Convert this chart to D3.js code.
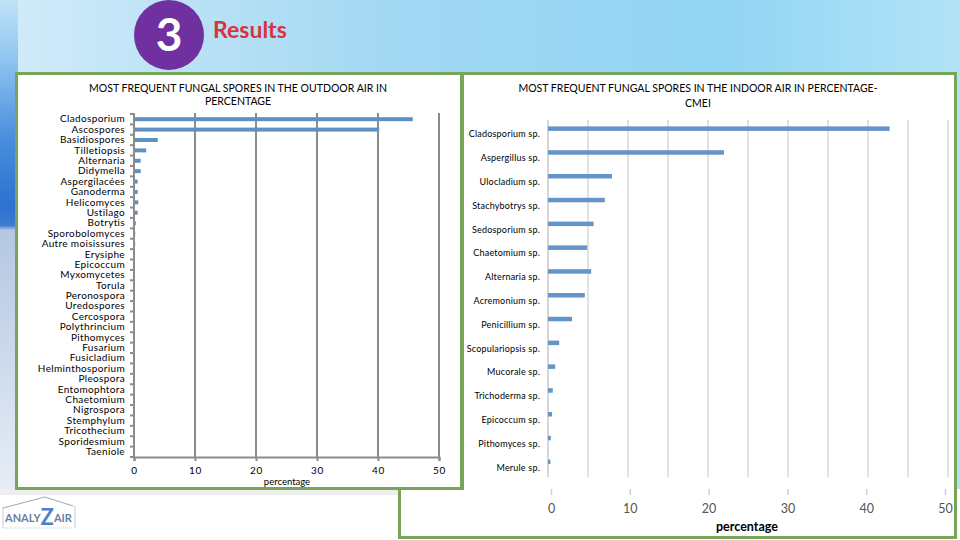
<!DOCTYPE html>
<html>
<head>
<meta charset="utf-8">
<script src="https://cdn.jsdelivr.net/npm/d3@7"></script>
<style>
  html, body { margin: 0; padding: 0; background: #ffffff; }
  svg { display: block; }
  text { font-family: Lato, "Open Sans", sans-serif; }
</style>
</head>
<body>
<svg id="slide" width="960" height="540"></svg>
<script>
// ---------- DATA ----------
const outdoorCategories = ["Cladosporium","Ascospores","Basidiospores","Tilletiopsis","Alternaria","Didymella","Aspergilacées","Ganoderma","Helicomyces","Ustilago","Botrytis","Sporobolomyces","Autre moisissures","Erysiphe","Epicoccum","Myxomycetes","Torula","Peronospora","Uredospores","Cercospora","Polythrincium","Pithomyces","Fusarium","Fusicladium","Helminthosporium","Pleospora","Entomophtora","Chaetomium","Nigrospora","Stemphylum","Tricothecium","Sporidesmium","Taeniole"];
const outdoorValues = [45.7, 40.2, 3.9, 2.0, 1.1, 1.1, 0.6, 0.6, 0.7, 0.6, 0.3, 0.2, 0.2, 0.15, 0.15, 0.15, 0.1, 0.1, 0.08, 0.08, 0.06, 0.06, 0.05, 0.05, 0.05, 0.05, 0.04, 0.04, 0.04, 0.03, 0.03, 0.03, 0.02];
const indoorCategories = ["Cladosporium sp.","Aspergillus sp.","Ulocladium sp.","Stachybotrys sp.","Sedosporium sp.","Chaetomium sp.","Alternaria sp.","Acremonium sp.","Penicillium sp.","Scopulariopsis sp.","Mucorale sp.","Trichoderma sp.","Epicoccum sp.","Pithomyces sp.","Merule sp."];
const indoorValues = [42.7, 22.0, 8.0, 7.1, 5.7, 4.9, 5.4, 4.6, 3.0, 1.4, 0.9, 0.6, 0.5, 0.35, 0.3];
const outdoorTicks = [0, 10, 20, 30, 40, 50];
const indoorGridTicks = [0, 5, 10, 15, 20, 25, 30, 35, 40, 45, 50];
const indoorAxisTicks = [0, 10, 20, 30, 40, 50];
const outdoorTitle = ["MOST FREQUENT FUNGAL SPORES IN THE OUTDOOR AIR IN", "PERCENTAGE"];
const indoorTitle = ["MOST FREQUENT FUNGAL SPORES IN THE INDOOR AIR IN PERCENTAGE-", "CMEI"];
const axisTitle = "percentage";

// ---------- SLIDE ----------
const svg = d3.select("#slide");
const defs = svg.append("defs");

const topGrad = defs.append("linearGradient").attr("id", "topGrad")
  .attr("x1", 0).attr("y1", 0).attr("x2", 1).attr("y2", 0);
[["0%", "#d2ebf9"], ["40%", "#a3d8f3"], ["75%", "#92d5f4"], ["100%", "#b2e3f7"]]
  .forEach(([o, c]) => topGrad.append("stop").attr("offset", o).attr("stop-color", c));

const stripGrad = defs.append("linearGradient").attr("id", "stripGrad")
  .attr("x1", 0).attr("y1", 0).attr("x2", 0).attr("y2", 1);
[["0%", "#c0e2f6"], ["12%", "#8fc6ef"], ["28%", "#4a8fdc"], ["42%", "#2c72d0"], ["46%", "#3c7cd2"], ["47%", "#b5c7e2"], ["100%", "#e6edf6"]]
  .forEach(([o, c]) => stripGrad.append("stop").attr("offset", o).attr("stop-color", c));

svg.append("rect").attr("x", 0).attr("y", 0).attr("width", 960).attr("height", 490).attr("fill", "url(#topGrad)");
svg.append("rect").attr("x", 0).attr("y", 0).attr("width", 18).attr("height", 490).attr("fill", "url(#stripGrad)");
svg.append("rect").attr("x", 0).attr("y", 489).attr("width", 960).attr("height", 51).attr("fill", "#ffffff");
svg.append("rect").attr("x", 0).attr("y", 489).attr("width", 400).attr("height", 6).attr("fill", "#eeeeee");

// Heading
svg.append("circle").attr("cx", 169).attr("cy", 35).attr("r", 35).attr("fill", "#7030a0");
svg.append("text").attr("x", 169).attr("y", 51).attr("text-anchor", "middle")
  .attr("fill", "#ffffff").attr("font-size", 46).attr("font-weight", "bold").text("3");
svg.append("text").attr("x", 213).attr("y", 38).attr("fill", "#d9333f")
  .attr("font-size", 23).attr("font-weight", "bold").text("Results");

// Panels
const green = "#77a55a";
svg.append("rect").attr("x", 16.5).attr("y", 73.5).attr("width", 445).attr("height", 415)
  .attr("fill", "#ffffff").attr("stroke", green).attr("stroke-width", 3);
svg.append("path").attr("d", "M399.5,488.5 H462.5 V73.5 H955.5 V537.5 H399.5 Z")
  .attr("fill", "#ffffff").attr("stroke", green).attr("stroke-width", 3);

// ---------- LEFT CHART (outdoor) ----------
const gL = svg.append("g");
const xL = d3.scaleLinear().domain([0, 50]).range([134, 439]);
const yL = d3.scaleBand().domain(outdoorCategories).range([114, 457]);
const gridGray = "#8c8c8c";

gL.selectAll("text.title").data(outdoorTitle).join("text")
  .attr("x", 238).attr("y", (d, i) => 92 + i * 13).attr("text-anchor", "middle")
  .attr("font-size", 10.5).attr("fill", "#000").text(d => d);

gL.selectAll("line.grid").data(outdoorTicks.slice(1)).join("line")
  .attr("x1", d => xL(d)).attr("x2", d => xL(d)).attr("y1", 113).attr("y2", 457)
  .attr("stroke", gridGray).attr("stroke-width", 2);

gL.selectAll("rect.bar").data(outdoorValues).join("rect")
  .attr("x", xL(0)).attr("y", (d, i) => yL(outdoorCategories[i]) + yL.bandwidth() / 2 - 2)
  .attr("width", d => Math.max(xL(d) - xL(0), 0.5)).attr("height", 4)
  .attr("fill", "#5f8fc5");

// left axis with labels
const axL = gL.append("g").attr("transform", `translate(${xL(0)},0)`)
  .call(d3.axisLeft(yL).tickSize(0).tickPadding(9));
axL.select(".domain").remove();
axL.selectAll("text").attr("font-size", 10).attr("fill", "#000").attr("letter-spacing", 0.35)
  .attr("font-family", "Lato, sans-serif");
// boundary ticks
const bounds = outdoorCategories.map(c => yL(c)).concat([yL.range()[1]]);
gL.selectAll("line.btick").data(bounds).join("line")
  .attr("x1", xL(0) - 4).attr("x2", xL(0)).attr("y1", d => d).attr("y2", d => d)
  .attr("stroke", gridGray).attr("stroke-width", 2);
gL.append("line").attr("x1", xL(0)).attr("x2", xL(0)).attr("y1", 113).attr("y2", 458)
  .attr("stroke", gridGray).attr("stroke-width", 2);

// bottom axis
const axB = gL.append("g").attr("transform", "translate(0,457)")
  .call(d3.axisBottom(xL).tickValues(outdoorTicks).tickSize(4).tickPadding(6).tickFormat(d3.format("d")));
axB.select(".domain").attr("stroke", gridGray).attr("stroke-width", 2);
axB.selectAll(".tick line").attr("stroke", gridGray).attr("stroke-width", 2);
axB.selectAll("text").attr("font-size", 10).attr("fill", "#000").attr("letter-spacing", 0.8)
  .attr("font-family", "Lato, sans-serif");
gL.append("text").attr("x", 287).attr("y", 485).attr("text-anchor", "middle")
  .attr("font-size", 9.5).attr("fill", "#000").text(axisTitle);

// ---------- RIGHT CHART (indoor) ----------
const gR = svg.append("g");
const xR = d3.scaleLinear().domain([0, 50]).range([548, 948]);
const yR = d3.scaleBand().domain(indoorCategories).range([120, 477]);

gR.selectAll("text.title").data(indoorTitle).join("text")
  .attr("x", 698).attr("y", (d, i) => 92 + i * 15).attr("text-anchor", "middle")
  .attr("font-size", 10.5).attr("fill", "#000").text(d => d);

gR.selectAll("line.grid").data(indoorGridTicks).join("line")
  .attr("x1", d => xR(d)).attr("x2", d => xR(d)).attr("y1", 120).attr("y2", 477)
  .attr("stroke", d => d === 0 ? "#c8c8c8" : "#d9d9d9").attr("stroke-width", 1.5);

gR.selectAll("rect.bar").data(indoorValues).join("rect")
  .attr("x", xR(0)).attr("y", (d, i) => yR(indoorCategories[i]) + yR.bandwidth() / 2 - 5.5)
  .attr("width", d => xR(d) - xR(0)).attr("height", 4.5)
  .attr("fill", "#6494c8");

gR.selectAll("text.cat").data(indoorCategories).join("text")
  .attr("x", 540).attr("y", d => yR(d) + yR.bandwidth() / 2 + 5.5)
  .attr("text-anchor", "end").attr("font-size", 9).attr("fill", "#000")
  .attr("letter-spacing", 0.2).text(d => d);

// detached bottom axis
const xR2 = d3.scaleLinear().domain([0, 50]).range([551, 945]);
const axR = gR.append("g").attr("transform", "translate(0,489)")
  .call(d3.axisBottom(xR2).tickValues(indoorAxisTicks).tickSize(6).tickPadding(9).tickFormat(d3.format("d")));
axR.select(".domain").remove();
axR.selectAll(".tick line").attr("stroke", "#d0d0d0").attr("stroke-width", 1.5);
axR.selectAll("text").attr("font-size", 12.5).attr("fill", "#555").attr("font-family", "Lato, sans-serif");
gR.append("text").attr("x", 747).attr("y", 531).attr("text-anchor", "middle")
  .attr("font-size", 12.5).attr("font-weight", "bold").attr("fill", "#000").text(axisTitle);

// ---------- LOGO ----------
const gLogo = svg.append("g");
gLogo.append("path").attr("d", "M3,508 L45,497 L73,506").attr("fill", "none")
  .attr("stroke", "#9aa7b8").attr("stroke-width", 1);
gLogo.append("line").attr("x1", 3).attr("x2", 3).attr("y1", 507).attr("y2", 528).attr("stroke", "#c7cfd9");
gLogo.append("line").attr("x1", 75).attr("x2", 75).attr("y1", 506).attr("y2", 528).attr("stroke", "#c7cfd9");
gLogo.append("line").attr("x1", 3).attr("x2", 75).attr("y1", 528).attr("y2", 528)
  .attr("stroke", "#c7cfd9").attr("stroke-dasharray", "1,1");
const logoText = gLogo.append("text").attr("x", 5).attr("y", 522).attr("font-size", 11)
  .attr("font-weight", "bold").attr("fill", "#6a7f9c");
logoText.append("tspan").text("ANALY");
logoText.append("tspan").attr("font-size", 22).attr("fill", "#4f7fd0").attr("dy", 3).text("Z");
logoText.append("tspan").attr("dy", -3).text("AIR");
</script>
</body>
</html>
